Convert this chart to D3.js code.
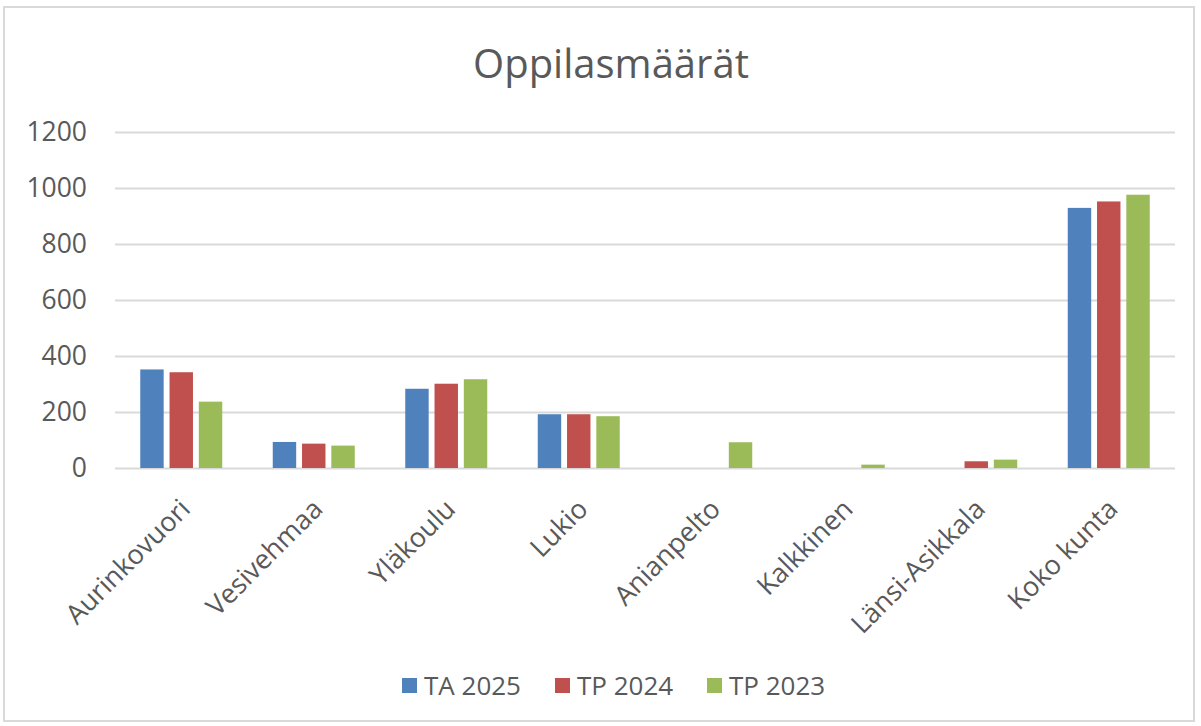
<!DOCTYPE html>
<html>
<head>
<meta charset="utf-8">
<script src="https://cdn.jsdelivr.net/npm/d3@7"></script>
<style>
  body { margin: 0; background: #fff; }
  #chart { font-family: 'Open Sans', 'Liberation Sans', sans-serif; }
</style>
</head>
<body>
<div id="chart"></div>
<script>
const categories = ['Aurinkovuori', 'Vesivehmaa', 'Yläkoulu', 'Lukio', 'Anianpelto', 'Kalkkinen', 'Länsi-Asikkala', 'Koko kunta'];
const seriesNames = ['TA 2025', 'TP 2024', 'TP 2023'];
const ta2025 = [352, 93, 283, 192, 0, 0, 0, 929];
const tp2024 = [342, 87, 301, 192, 0, 0, 24, 952];
const tp2023 = [237, 80, 317, 185, 92, 12, 30, 976];
const yTicks = [0, 200, 400, 600, 800, 1000, 1200];
const colors = ['#4F81BD', '#C0504D', '#9BBB59'];

const allSeries = [ta2025, tp2024, tp2023];
const data = categories.map((c, i) => ({ cat: c, values: allSeries.map((s, j) => ({ key: seriesNames[j], value: s[i] })) }));

const W = 1201, H = 726;
const margin = { top: 132, right: 26, bottom: 258, left: 115 };
const width = W - margin.left - margin.right;
const height = H - margin.top - margin.bottom;

const svg = d3.select('#chart')
  .append('svg')
  .attr('width', W)
  .attr('height', H);

// chart frame
svg.append('rect')
  .attr('x', 4).attr('y', 7)
  .attr('width', 1190).attr('height', 714)
  .attr('fill', '#fff')
  .attr('stroke', '#D9D9D9')
  .attr('stroke-width', 2);

svg.append('text')
  .attr('x', 611)
  .attr('y', 78)
  .attr('text-anchor', 'middle')
  .attr('font-size', 40)
  .attr('fill', '#595959')
  .text('Oppilasmäärät');

const g = svg.append('g').attr('transform', `translate(${margin.left}, ${margin.top})`);

const x0 = d3.scaleBand().domain(categories).range([0, width]).paddingInner(0).paddingOuter(0);
const x1 = d3.scaleBand().domain(seriesNames).range([x0.bandwidth() / 2 - 41, x0.bandwidth() / 2 + 41]).paddingInner(0.2);
const y = d3.scaleLinear().domain([0, 1200]).range([height, 0]);

const yAxis = d3.axisLeft(y).tickValues(yTicks).tickFormat(d3.format('d')).tickSize(-width).tickPadding(28);
g.append('g')
  .attr('class', 'y-axis')
  .call(yAxis);

d3.selectAll('.y-axis path').remove();
d3.selectAll('.y-axis line').attr('stroke', '#D9D9D9').attr('stroke-width', 2);
d3.selectAll('.y-axis text').attr('fill', '#595959').attr('font-size', 26.5).attr('font-family', "'Open Sans', sans-serif");

g.selectAll('.group')
  .data(data)
  .enter()
  .append('g')
  .attr('class', 'group')
  .attr('transform', (d) => `translate(${x0(d.cat)}, 0)`)
  .selectAll('rect')
  .data((d) => d.values.filter((v) => v.value > 0))
  .enter()
  .append('rect')
  .attr('x', (d) => x1(d.key))
  .attr('y', (d) => y(d.value))
  .attr('width', x1.bandwidth())
  .attr('height', (d) => height - y(d.value))
  .attr('fill', (d) => colors[seriesNames.indexOf(d.key)]);

const xAxis = d3.axisBottom(x0).tickSize(0).tickPadding(0);
g.append('g')
  .attr('class', 'x-axis')
  .attr('transform', `translate(0, ${height})`)
  .call(xAxis);

d3.selectAll('.x-axis path').remove();
d3.selectAll('.x-axis text')
  .attr('fill', '#595959')
  .attr('font-size', 27)
  .attr('font-family', "'Open Sans', sans-serif")
  .attr('y', 0)
  .attr('dy', '0.35em')
  .attr('transform', 'translate(4, 36) rotate(-45)')
  .style('text-anchor', 'end');

// legend
const legendX = [402, 555, 707];
const legend = svg.append('g').attr('class', 'legend');
seriesNames.forEach((name, i) => {
  legend.append('rect')
    .attr('x', legendX[i]).attr('y', 678)
    .attr('width', 15).attr('height', 15)
    .attr('fill', colors[i]);
  legend.append('text')
    .attr('x', legendX[i] + 22).attr('y', 695)
    .attr('font-size', 26)
    .attr('fill', '#595959')
    .text(name);
});
</script>
</body>
</html>
